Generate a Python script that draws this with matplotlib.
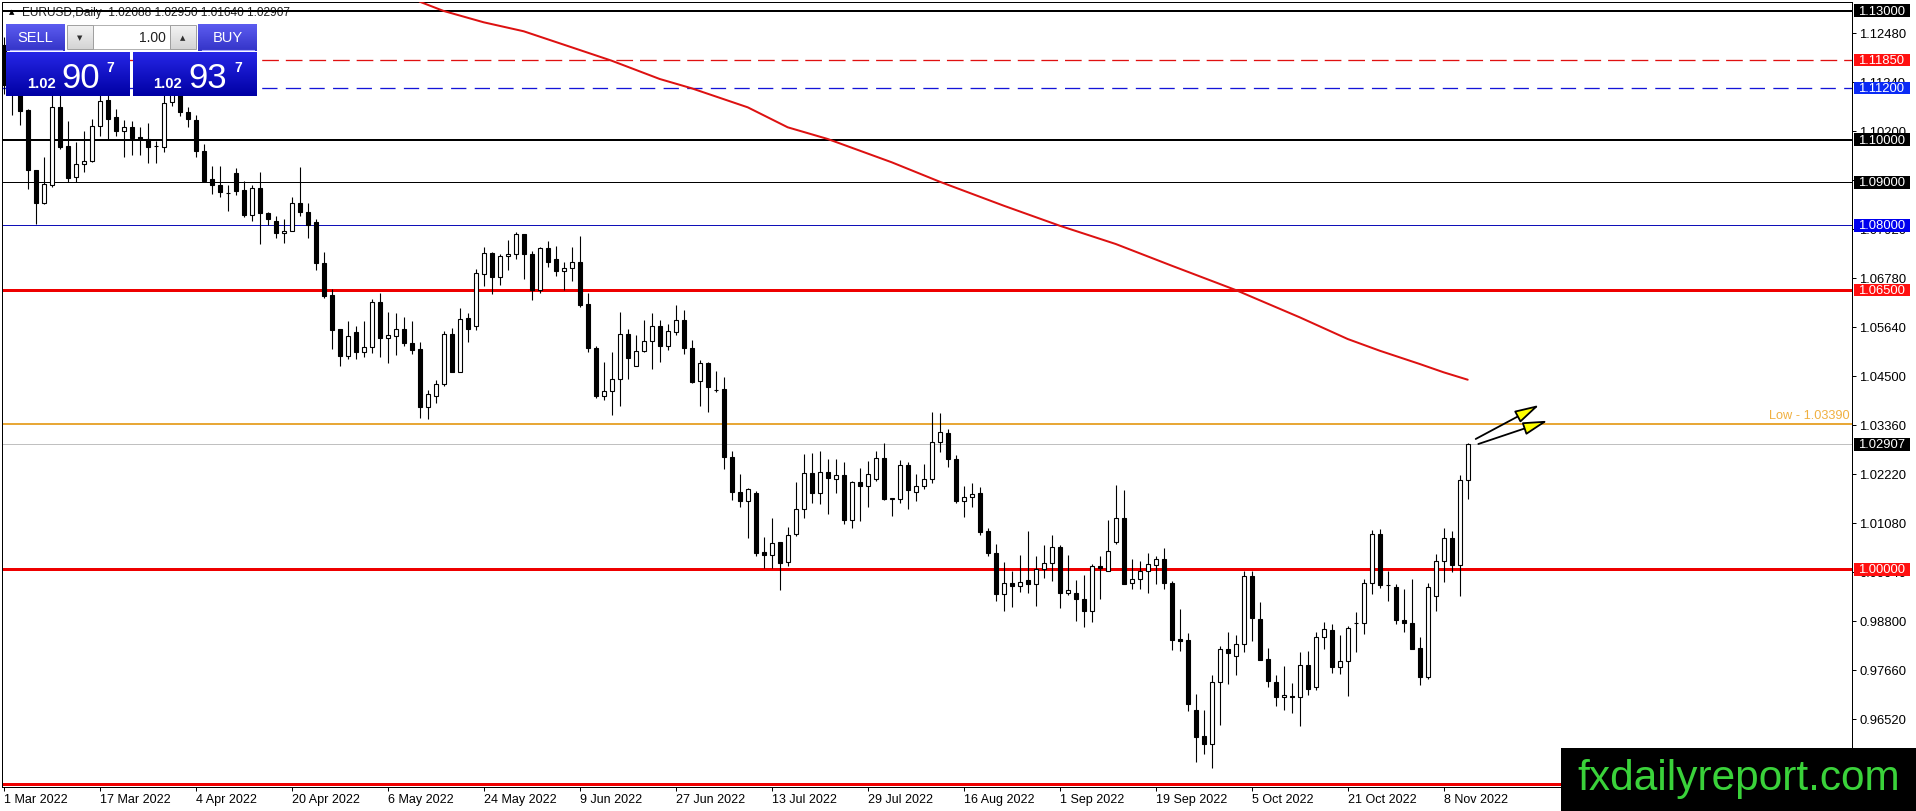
import matplotlib
matplotlib.use('Agg')
import matplotlib.pyplot as plt
import matplotlib.transforms as mtransforms
from matplotlib.patches import Rectangle, FancyArrowPatch
import numpy as np
import pandas as pd

plt.rcParams['font.family'] = ['Liberation Sans', 'DejaVu Sans']
plt.rcParams['lines.scale_dashes'] = False

# ---------------- data ----------------
symbol_title = "EURUSD,Daily  1.02088 1.02950 1.01640 1.02907"
first_date = "2022-03-01"

opens = [1.1219, 1.1126, 1.1118, 1.1068, 1.0929, 1.0852, 1.0894, 1.1075, 1.0984, 1.0912,
         1.0942, 1.0949, 1.1031, 1.1092, 1.1052, 1.1019, 1.1029, 1.1006, 1.1002, 1.0985,
         1.0982, 1.1087, 1.1160, 1.1065, 1.1046, 1.0974, 1.0907, 1.0894, 1.0876, 1.0922,
         1.0883, 1.0825, 1.0887, 1.0829, 1.0810, 1.0782, 1.0786, 1.0852, 1.0831, 1.0807,
         1.0712, 1.0638, 1.0559, 1.0496, 1.0551, 1.0506, 1.0518, 1.0621, 1.0539, 1.0543,
         1.0560, 1.0527, 1.0512, 1.0378, 1.0404, 1.0432, 1.0547, 1.0459, 1.0584, 1.0565,
         1.0688, 1.0735, 1.0679, 1.0728, 1.0734, 1.0779, 1.0733, 1.0650, 1.0747, 1.0721,
         1.0694, 1.0702, 1.0715, 1.0617, 1.0514, 1.0403, 1.0415, 1.0443, 1.0548, 1.0474,
         1.0507, 1.0531, 1.0566, 1.0519, 1.0551, 1.0579, 1.0516, 1.0437, 1.0479, 1.0418,
         1.0419, 1.0262, 1.0181, 1.0159, 1.0177, 1.0040, 1.0034, 1.0063, 1.0016, 1.0083,
         1.0141, 1.0225, 1.0178, 1.0227, 1.0211, 1.0219, 1.0115, 1.0202, 1.0194, 1.0211,
         1.0259, 1.0163, 1.0164, 1.0242, 1.0181, 1.0193, 1.0210, 1.0297, 1.0317, 1.0257,
         1.0159, 1.0169, 1.0178, 1.0088, 1.0039, 0.9943, 0.9968, 0.9962, 0.9974, 0.9965,
         1.0001, 1.0014, 1.0053, 0.9945, 0.9945, 0.9930, 0.9904, 1.0007, 0.9997, 1.0064,
         1.0120, 0.9967, 0.9978, 0.9996, 1.0010, 1.0023, 0.9969, 0.9838, 0.9836, 0.9673,
         0.9612, 0.9593, 0.9737, 0.9815, 0.9798, 0.9826, 0.9985, 0.9884, 0.9792, 0.9737,
         0.9703, 0.9705, 0.9703, 0.9778, 0.9727, 0.9842, 0.9858, 0.9773, 0.9786, 0.9875,
         0.9875, 0.9968, 1.0082, 0.9964, 0.9958, 0.9883, 0.9875, 0.9817, 0.9750, 0.9939,
         1.0020, 1.0072, 1.0010, 1.02088]
highs = [1.1238, 1.1153, 1.1135, 1.1070, 1.0930, 1.0959, 1.1121, 1.1110, 1.1044, 1.0994,
         1.1020, 1.1047, 1.1137, 1.1113, 1.1071, 1.1046, 1.1044, 1.1029, 1.1039, 1.0997,
         1.1137, 1.1185, 1.1170, 1.1075, 1.1056, 1.0990, 1.0939, 1.0939, 1.0893, 1.0934,
         1.0903, 1.0894, 1.0924, 1.0832, 1.0821, 1.0815, 1.0866, 1.0936, 1.0852, 1.0815,
         1.0738, 1.0653, 1.0559, 1.0578, 1.0566, 1.0577, 1.0630, 1.0643, 1.0599, 1.0597,
         1.0586, 1.0577, 1.0529, 1.0417, 1.0441, 1.0554, 1.0562, 1.0609, 1.0597, 1.0698,
         1.0749, 1.0739, 1.0733, 1.0766, 1.0785, 1.0779, 1.0741, 1.0749, 1.0764, 1.0752,
         1.0715, 1.0750, 1.0776, 1.0642, 1.0520, 1.0483, 1.0506, 1.0599, 1.0560, 1.0546,
         1.0581, 1.0597, 1.0581, 1.0570, 1.0614, 1.0604, 1.0534, 1.0487, 1.0483, 1.0461,
         1.0447, 1.0276, 1.0221, 1.0190, 1.0182, 1.0074, 1.0120, 1.0064, 1.0099, 1.0202,
         1.0269, 1.0271, 1.0276, 1.0256, 1.0257, 1.0250, 1.0206, 1.0235, 1.0253, 1.0275,
         1.0293, 1.0165, 1.0254, 1.0250, 1.0222, 1.0246, 1.0365, 1.0364, 1.0326, 1.0267,
         1.0193, 1.0201, 1.0192, 1.0095, 1.0059, 1.0018, 0.9997, 1.0033, 1.0088, 1.0030,
         1.0056, 1.0079, 1.0056, 1.0033, 0.9976, 0.9987, 1.0012, 1.0032, 1.0115, 1.0197,
         1.0185, 1.0023, 1.0019, 1.0037, 1.0031, 1.0050, 0.9973, 0.9907, 0.9852, 0.9710,
         0.9673, 0.9753, 0.9822, 0.9855, 0.9846, 0.9996, 0.9996, 0.9925, 0.9816, 0.9754,
         0.9775, 0.9736, 0.9808, 0.9811, 0.9854, 0.9877, 0.9873, 0.9848, 0.9869, 0.9900,
         0.9978, 1.0091, 1.0093, 0.9997, 0.9966, 0.9954, 0.9978, 0.9842, 0.9968, 1.0036,
         1.0096, 1.0088, 1.0219, 1.02950]
lows = [1.1105, 1.1056, 1.1033, 1.0885, 1.0803, 1.0850, 1.0890, 1.0977, 1.0902, 1.0902,
        1.0925, 1.0948, 1.1007, 1.1000, 1.1009, 1.0960, 1.0963, 1.0965, 1.0945, 1.0945,
        1.0970, 1.1078, 1.1054, 1.1029, 1.0960, 1.0900, 1.0873, 1.0866, 1.0834, 1.0871,
        1.0820, 1.0810, 1.0757, 1.0800, 1.0770, 1.0760, 1.0786, 1.0823, 1.0770, 1.0696,
        1.0632, 1.0512, 1.0472, 1.0490, 1.0490, 1.0493, 1.0504, 1.0493, 1.0481, 1.0499,
        1.0519, 1.0502, 1.0353, 1.0349, 1.0387, 1.0427, 1.0459, 1.0459, 1.0529, 1.0557,
        1.0659, 1.0640, 1.0661, 1.0696, 1.0723, 1.0676, 1.0627, 1.0642, 1.0704, 1.0682,
        1.0650, 1.0670, 1.0611, 1.0506, 1.0399, 1.0395, 1.0358, 1.0381, 1.0443, 1.0474,
        1.0505, 1.0466, 1.0482, 1.0510, 1.0546, 1.0501, 1.0433, 1.0381, 1.0365, 1.0412,
        1.0234, 1.0161, 1.0144, 1.0072, 1.0032, 1.0003, 1.0003, 0.9953, 1.0007, 1.0078,
        1.0119, 1.0155, 1.0151, 1.0128, 1.0177, 1.0105, 1.0096, 1.0113, 1.0146, 1.0205,
        1.0161, 1.0123, 1.0155, 1.0141, 1.0159, 1.0186, 1.0200, 1.0274, 1.0237, 1.0155,
        1.0122, 1.0145, 1.0079, 1.0032, 0.9926, 0.9903, 0.9912, 0.9948, 0.9945, 0.9914,
        0.9980, 0.9972, 0.9911, 0.9941, 0.9880, 0.9866, 0.9877, 0.9930, 0.9995, 1.0058,
        0.9965, 0.9954, 0.9954, 0.9944, 0.9965, 0.9955, 0.9812, 0.9809, 0.9670, 0.9552,
        0.9570, 0.9537, 0.9637, 0.9734, 0.9753, 0.9807, 0.9834, 0.9788, 0.9727, 0.9681,
        0.9672, 0.9666, 0.9636, 0.9708, 0.9719, 0.9815, 0.9759, 0.9756, 0.9706, 0.9808,
        0.9850, 0.9943, 0.9957, 0.9927, 0.9873, 0.9854, 0.9815, 0.9730, 0.9744, 0.9904,
        0.9971, 0.9993, 0.9937, 1.01640]
closes = [1.1126, 1.1118, 1.1066, 1.0930, 1.0852, 1.0896, 1.1075, 1.0982, 1.0910, 1.0942,
          1.0949, 1.1031, 1.1089, 1.1048, 1.1019, 1.1029, 1.1004, 1.1002, 1.0982, 1.0985,
          1.1085, 1.1160, 1.1064, 1.1047, 1.0973, 1.0904, 1.0893, 1.0877, 1.0876, 1.0881,
          1.0824, 1.0887, 1.0828, 1.0815, 1.0782, 1.0786, 1.0852, 1.0831, 1.0801, 1.0712,
          1.0635, 1.0557, 1.0496, 1.0543, 1.0506, 1.0518, 1.0621, 1.0539, 1.0545, 1.0560,
          1.0526, 1.0510, 1.0378, 1.0408, 1.0432, 1.0548, 1.0459, 1.0582, 1.0560, 1.0689,
          1.0735, 1.0679, 1.0728, 1.0733, 1.0779, 1.0733, 1.0650, 1.0747, 1.0716, 1.0694,
          1.0702, 1.0715, 1.0614, 1.0516, 1.0403, 1.0415, 1.0443, 1.0548, 1.0492, 1.0509,
          1.0531, 1.0566, 1.0519, 1.0554, 1.0579, 1.0516, 1.0435, 1.0479, 1.0423, 1.0418,
          1.0261, 1.0181, 1.0159, 1.0186, 1.0039, 1.0034, 1.0061, 1.0015, 1.0080, 1.0141,
          1.0225, 1.0178, 1.0227, 1.0213, 1.0219, 1.0115, 1.0204, 1.0194, 1.0222, 1.0259,
          1.0163, 1.0165, 1.0242, 1.0184, 1.0194, 1.0210, 1.0297, 1.0319, 1.0257, 1.0159,
          1.0169, 1.0176, 1.0087, 1.0039, 0.9943, 0.9968, 0.9962, 0.9971, 0.9965, 1.0001,
          1.0014, 1.0053, 0.9945, 0.9953, 0.9930, 0.9904, 1.0007, 1.0003, 1.0042, 1.0120,
          0.9965, 0.9978, 0.9996, 1.0013, 1.0023, 0.9969, 0.9836, 0.9834, 0.9687, 0.9610,
          0.9593, 0.9737, 0.9815, 0.9805, 0.9826, 0.9985, 0.9886, 0.9790, 0.9739, 0.9703,
          0.9708, 0.9703, 0.9778, 0.9722, 0.9842, 0.9860, 0.9773, 0.9786, 0.9863, 0.9875,
          0.9968, 1.0083, 0.9964, 0.9964, 0.9883, 0.9875, 0.9815, 0.9750, 0.9958, 1.0020,
          1.0072, 1.0010, 1.0208, 1.02907]

# moving average (read at sample bars)
ma_bars = [52, 55, 60, 65, 71, 76, 82, 86, 93, 98, 103, 111, 117, 125, 132, 139, 146,
           154, 162, 168, 172, 177, 180, 183]
ma_values = [1.13206, 1.12990, 1.12727, 1.12518, 1.12145, 1.11833, 1.11408, 1.11191,
             1.10749, 1.10284, 1.10012, 1.09470, 1.09018, 1.08460, 1.07994, 1.07569,
             1.07064, 1.06498, 1.05863, 1.05358, 1.05086, 1.04777, 1.04583, 1.04411]

# horizontal levels
level_prices = [1.13000, 1.11850, 1.11200, 1.10000, 1.09000, 1.08000, 1.06500, 1.00000, 0.95000]
level_colors = ['#000000', '#e01010', '#1414d8', '#000000', '#000000', '#1010b8', '#ee0000', '#ee0000', '#ee0000']
level_box = ['#000000', '#ff1010', '#0a2af5', '#000000', '#000000', '#0000ee', '#ff1010', '#ff1010', '#ff1010']
level_widths = [2, 1.3, 1.3, 2, 1, 1, 3, 3, 3]          # pixels
level_dashes = [None, (12, 5), (11, 6), None, None, None, None, None, None]

low_level = 1.03390
bid_price = 1.02907
tick_values = [0.95380, 0.96520, 0.97660, 0.98800, 0.99940, 1.01080, 1.02220, 1.03360,
               1.04500, 1.05640, 1.06780, 1.07920, 1.09060, 1.10200, 1.11340, 1.12480]

# annotation arrows (bar, price) start -> tip
arrow_starts = [(184.0, 1.03032), (184.33, 1.02915)]
arrow_tips = [(191.95, 1.03823), (193.0, 1.03457)]

sell_price = ("1.02", "90", "7")
buy_price = ("1.02", "93", "7")
lot_size = "1.00"
watermark = "fxdailyreport.com"

# ---------------- figure ----------------
W, H = 1916, 812
fig = plt.figure(figsize=(W / 100, H / 100), dpi=100)
fig.patch.set_facecolor('white')

ax_l, ax_r, ax_t, ax_b = 2, 1852, 3, 788
ax = fig.add_axes([ax_l / W, (H - ax_b) / H, (ax_r - ax_l) / W, (ax_b - ax_t) / H])
ax.set_facecolor('white')

px_per_bar = 8.0
bar0_px = 3.7
x_lo = (ax_l - bar0_px) / px_per_bar
x_hi = (ax_r - bar0_px) / px_per_bar
ax.set_xlim(x_lo, x_hi)
y_top, y_bot = 1.131992, 0.949349
ax.set_ylim(y_bot, y_top)
pp = (ax_b - ax_t) / (y_top - y_bot)   # pixels per price unit


def pxw(n):
    return n * 0.72


o = np.array(opens); h = np.array(highs); l = np.array(lows); c = np.array(closes)
xs = np.arange(len(o))

# levels
for p, col, w, d in zip(level_prices, level_colors, level_widths, level_dashes):
    ln = ax.axhline(p, color=col, lw=pxw(w), zorder=2)
    if d is not None:
        ln.set_dashes(d)
ax.axhline(low_level, color='#e8a838', lw=pxw(2), zorder=2)
ax.axhline(bid_price, color='#c0c0c0', lw=pxw(1), zorder=2)

# moving average
ax.plot(ma_bars, ma_values, color='#dd1111', lw=pxw(2), zorder=3, solid_capstyle='round')

# candles
ax.vlines(xs, l, h, color='black', lw=pxw(1.1), zorder=4)
bull = c >= o
body_lo = np.minimum(o, c)
body_h = np.abs(c - o)
ax.bar(xs, body_h, bottom=body_lo, width=0.52,
       color=np.where(bull, 'white', 'black'), edgecolor='black',
       linewidth=pxw(1.1), zorder=5)

# arrows
for (sx, sy), (tx, ty) in zip(arrow_starts, arrow_tips):
    arr = FancyArrowPatch((sx, sy), (tx, ty),
                          arrowstyle='-|>,head_length=0.75,head_width=0.2',
                          mutation_scale=20, fc='#ffff00', ec='black',
                          lw=pxw(1.8), shrinkA=0, shrinkB=0, zorder=6)
    ax.add_patch(arr)

# low text
blend = mtransforms.blended_transform_factory(ax.transAxes, ax.transData)
ax.text((1850 - ax_l) / (ax_r - ax_l), low_level + 2.5 / pp, f"Low - {low_level:.5f}",
        transform=blend, ha='right', va='bottom', fontsize=9.2, color='#f0b040', zorder=6)

# title
ax.text((22 - ax_l) / (ax_r - ax_l), y_top - 9.5 / pp, symbol_title, transform=blend,
        ha='left', va='center', fontsize=8.6, color='#202020', zorder=1.5)
ax.text((9 - ax_l) / (ax_r - ax_l), y_top - 9.5 / pp, "\u25B2", transform=blend,
        ha='left', va='center', fontsize=5, color='black', zorder=1.5,
        family='DejaVu Sans')

# axes styling
for s in ax.spines.values():
    s.set_color('black')
    s.set_linewidth(pxw(1))
ax.yaxis.tick_right()
ax.set_yticks(tick_values)
ax.set_yticklabels([f"{v:.5f}" for v in tick_values])
ax.tick_params(axis='y', length=pxw(4), width=pxw(1), pad=pxw(3), labelsize=9.4,
               colors='black')

dates = pd.bdate_range(first_date, periods=len(o))
lab_idx = list(range(0, len(o), 12))
ax.set_xticks(lab_idx)
ax.set_xticklabels([f"{dates[i].day} {dates[i].strftime('%b %Y')}" for i in lab_idx])
ax.tick_params(axis='x', length=pxw(4), width=pxw(1), pad=pxw(2), labelsize=9)
for t in ax.get_xticklabels():
    t.set_ha('left')

# price tag boxes on the right axis
bx0 = (1854 - ax_l) / (ax_r - ax_l)
bw = (1910 - 1854) / (ax_r - ax_l)
bh = 12.5 / pp
tags = list(zip(level_prices, level_box)) + [(bid_price, '#000000')]
for p, col in tags:
    if p < y_bot + 0.005:
        continue
    ax.add_patch(Rectangle((bx0, p - bh / 2), bw, bh, transform=blend, facecolor=col,
                           edgecolor='none', clip_on=False, zorder=8))
    ax.text((1858 - ax_l) / (ax_r - ax_l), p, f"{p:.5f}", transform=blend, ha='left',
            va='center', fontsize=9.4, color='white', clip_on=False, zorder=9)

# ---------------- overlay (pixel coords) ----------------
ov = fig.add_axes([0, 0, 1, 1], zorder=10)
ov.patch.set_visible(False)
ov.axis('off')


def grad(x0, y0, x1, y1, c_top, c_bot):
    ct = np.array(matplotlib.colors.to_rgb(c_top))
    cb = np.array(matplotlib.colors.to_rgb(c_bot))
    t = np.linspace(0, 1, 64)[:, None]
    img = (ct[None, :] * (1 - t) + cb[None, :] * t)[:, None, :]
    ov.imshow(img, extent=(x0, x1, y1, y0), aspect='auto', interpolation='bilinear',
              zorder=1)


# buttons
grad(6, 25, 65, 52, '#5c5cf0', '#3434c8')
grad(198, 25, 257, 52, '#5c5cf0', '#3434c8')
ov.plot([10, 62], [51, 51], color='#a8a8ff', lw=0.8, zorder=2)
ov.plot([202, 254], [51, 51], color='#a8a8ff', lw=0.8, zorder=2)
grad(67, 26, 93, 50, '#f4f4f4', '#d4d4d4')
grad(170, 26, 196, 50, '#f4f4f4', '#d4d4d4')
ov.add_patch(Rectangle((93, 26), 77, 24, facecolor='white', edgecolor='#b0b0b0', lw=0.7, zorder=2))
ov.add_patch(Rectangle((67, 26), 26, 24, facecolor='none', edgecolor='#a0a0a0', lw=0.7, zorder=2))
ov.add_patch(Rectangle((170, 26), 26, 24, facecolor='none', edgecolor='#a0a0a0', lw=0.7, zorder=2))
ov.text(35.5, 38.5, "SELL", ha='center', va='center', color='white', fontsize=10.5, zorder=3)
ov.text(227.5, 38.5, "BUY", ha='center', va='center', color='white', fontsize=10.5, zorder=3)
ov.text(80, 38, "\u25BC", ha='center', va='center', color='#303030', fontsize=5,
        family='DejaVu Sans', zorder=3)
ov.text(183, 38, "\u25B2", ha='center', va='center', color='#303030', fontsize=5,
        family='DejaVu Sans', zorder=3)
ov.text(166, 38, lot_size, ha='right', va='center', color='#202020', fontsize=10, zorder=3)

# price boxes
for (x0, x1), (small, big, sup), (xs_, xb_, xp_) in zip(
        [(6, 130), (133, 257)], [sell_price, buy_price], [(27, 61, 106), (153, 188, 234)]):
    grad(x0, 53, x1, 97, '#2626e6', '#0000a4')
    ov.text(xs_, 87.5, small, ha='left', va='baseline', color='white', fontsize=10.6,
            fontweight='bold', zorder=3)
    ov.text(xb_, 87.5, big, ha='left', va='baseline', color='white', fontsize=25, zorder=3)
    ov.text(xp_, 72, sup, ha='left', va='baseline', color='white', fontsize=10,
            fontweight='bold', zorder=3)

# watermark
ov.add_patch(Rectangle((1561, 749), W - 1561, H - 749, facecolor='black', edgecolor='none', zorder=4))
ov.text(1577, 790, watermark, ha='left', va='baseline', color='#3ad23a', fontsize=30.5, zorder=5)

ov.set_xlim(0, W)
ov.set_ylim(H, 0)

fig.savefig('out.png', dpi=100, facecolor='white')
